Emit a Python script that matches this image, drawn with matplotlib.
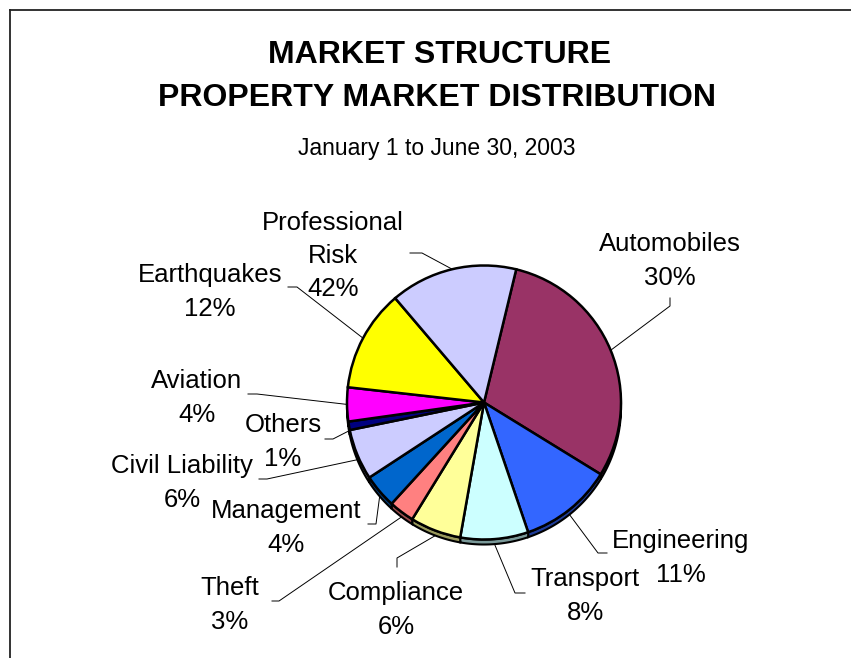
import numpy as np
import matplotlib
matplotlib.use("Agg")
import matplotlib.pyplot as plt
from matplotlib.patches import Polygon
from matplotlib.lines import Line2D
from matplotlib.colors import to_rgb

plt.rcParams['font.family'] = ['Liberation Sans', 'DejaVu Sans']

# ---- data -------------------------------------------------------------
categories = ["Automobiles", "Engineering", "Transport", "Compliance", "Theft",
              "Management", "Civil Liability", "Others", "Aviation",
              "Earthquakes", "Professional\nRisk"]
shares = [30, 11, 8, 6, 3, 4, 6, 1, 4, 12, 15]
pct_text = ["30%", "11%", "8%", "6%", "3%", "4%", "6%", "1%", "4%", "12%", "42%"]
colors = ["#993366", "#3366FF", "#CCFFFF", "#FFFF99", "#FF8080", "#0066CC",
          "#CCCCFF", "#000080", "#FF00FF", "#FFFF00", "#CCCCFF"]

title = "MARKET STRUCTURE\nPROPERTY MARKET DISTRIBUTION"
subtitle = "January 1 to June 30, 2003"

# ---- layout (pixel space, y measured from the top) --------------------
W, H = 851, 658
CX, CY, R, DEPTH = 484, 402.5, 137, 5
# label centre, elbow end, elbow corner
label_layout = {
    "Automobiles":        ((670, 261), (670, 298), (670, 306)),
    "Engineering":        ((681, 558), (607, 553), (598, 553)),
    "Transport":          ((585, 596), (525, 593), (515, 593)),
    "Compliance":         ((396, 610), (397, 567), (397, 558)),
    "Theft":              ((230, 605), (272, 601), (279, 601)),
    "Management":         ((286, 528), (368, 524), (376, 524)),
    "Civil Liability":    ((182, 483), (259, 479), (267, 479)),
    "Others":             ((283, 442), (325, 439), (333, 439)),
    "Aviation":           ((197, 398), (248, 394), (257, 394)),
    "Earthquakes":        ((210, 292), (288, 287), (297, 287)),
    "Professional\nRisk": ((333, 256), (410, 253), (422, 253)),
}


def Y(y):
    return H - y


fig = plt.figure(figsize=(W / 100, H / 100), dpi=100)
ax = fig.add_axes([0, 0, 1, 1])

wedges, _ = ax.pie(shares, colors=colors, startangle=76.4, counterclock=False,
                   center=(CX, Y(CY)), radius=R,
                   wedgeprops=dict(edgecolor="black", linewidth=1.8, zorder=3))

ax.set_xlim(0, W)
ax.set_ylim(0, H)
ax.set_aspect("auto")
ax.axis("off")

# side band of the tilted pie (front half only)
for w, c in zip(wedges, colors):
    t1, t2 = sorted((w.theta1, w.theta2))
    for k in (-720, -360, 0, 360):
        lo, hi = max(t1 + k, 180), min(t2 + k, 360)
        if hi > lo:
            a = np.radians(np.linspace(lo, hi, 60))
            xs = CX + R * np.cos(a)
            ys = Y(CY) + R * np.sin(a)
            pts = np.concatenate([np.column_stack([xs, ys]),
                                  np.column_stack([xs[::-1], ys[::-1] - DEPTH])])
            dark = tuple(0.6 * v for v in to_rgb(c))
            ax.add_patch(Polygon(pts, closed=True, facecolor=dark,
                                 edgecolor="black", linewidth=1.5, zorder=2))

# labels with leader lines to the arc midpoint of each slice
for w, name, pct in zip(wedges, categories, pct_text):
    (tx, ty), (ex, ey), (bx, by) = label_layout[name]
    mid = np.radians((w.theta1 + w.theta2) / 2)
    mx = CX + R * np.cos(mid)
    my = Y(CY) + R * np.sin(mid)
    if np.sin(mid) < -0.15:
        my -= DEPTH
    ax.add_line(Line2D([ex, bx, mx], [Y(ey), Y(by), my], color="black",
                       linewidth=0.7, zorder=4))
    ax.text(tx, Y(ty), f"{name}\n{pct}", ha="center", va="center",
            fontsize=18.5, linespacing=1.5, zorder=5)

# titles
lines = title.split("\n")
ax.text(440, Y(55), lines[0], ha="center", va="center", fontsize=23,
        fontweight="bold")
ax.text(437, Y(98), lines[1], ha="center", va="center", fontsize=23,
        fontweight="bold")
ax.text(437, Y(149), subtitle, ha="center", va="center", fontsize=16.5)

# chart area frame (top and left edges)
ax.add_line(Line2D([10, W], [Y(10), Y(10)], color="#222222", linewidth=1.3))
ax.add_line(Line2D([10, 10], [Y(10), 0], color="#222222", linewidth=1.3))

fig.savefig("out.png", dpi=100, facecolor="white")
